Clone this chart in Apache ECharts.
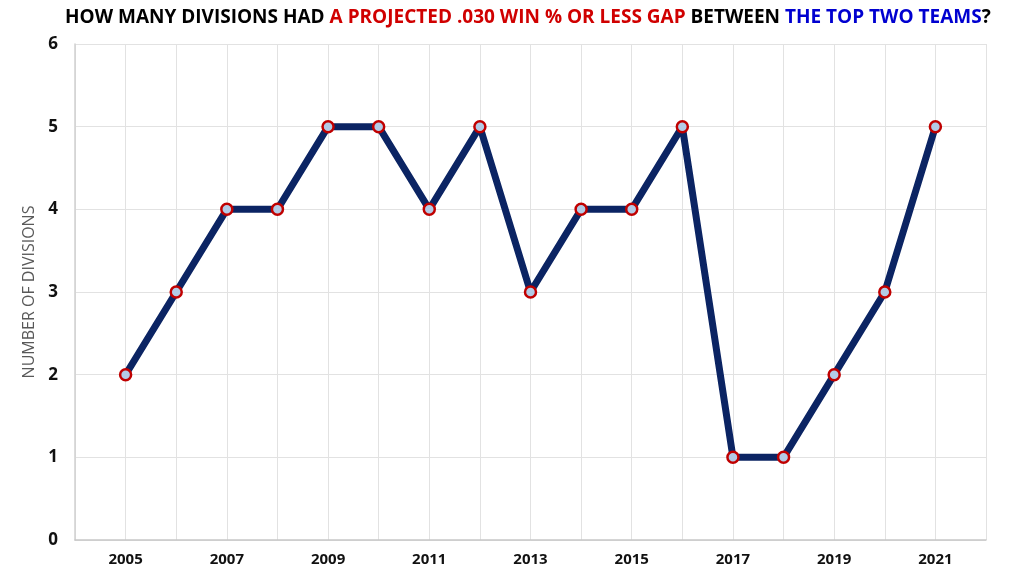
<!DOCTYPE html>
<html><head><meta charset="utf-8">
<script src="https://cdn.jsdelivr.net/npm/echarts@6/dist/echarts.min.js"></script>
<style>html,body{margin:0;padding:0;background:#fff}#c{width:1024px;height:576px}</style>
</head><body><div id="c"></div>
<script>
const years = [2005,2006,2007,2008,2009,2010,2011,2012,2013,2014,2015,2016,2017,2018,2019,2020,2021];
const divisions = [2,3,4,4,5,5,4,5,3,4,4,5,1,1,2,3,5];
const yTicks = [0,1,2,3,4,5,6];
const titleParts = ['HOW MANY DIVISIONS HAD ', 'A PROJECTED .030 WIN % OR LESS GAP', ' BETWEEN ', 'THE TOP TWO TEAMS', '?'];
const yName = 'NUMBER OF DIVISIONS';

const chart = echarts.init(document.getElementById('c'), null, {renderer:'canvas'});
const font = '"Open Sans", sans-serif';
const tfs = 19;
chart.setOption({
  animation:false,
  backgroundColor:'#fff',
  title:{
    left:60, top:3,
    text:'{k|'+titleParts[0]+'}{r|'+titleParts[1]+'}{k|'+titleParts[2]+'}{b|'+titleParts[3]+'}{k|'+titleParts[4]+'}',
    textStyle:{
      fontFamily:font, fontSize:tfs, fontWeight:'bold',
      rich:{
        k:{color:'#000', fontFamily:font, fontSize:tfs, fontWeight:'bold'},
        r:{color:'#d00000', fontFamily:font, fontSize:tfs, fontWeight:'bold'},
        b:{color:'#0000d0', fontFamily:font, fontSize:tfs, fontWeight:'bold'}
      }
    }
  },
  grid:{left:75, right:38, top:44, bottom:36, containLabel:false},
  xAxis:{
    type:'value', min:years[0]-1, max:years[years.length-1]+1, interval:1,
    axisLine:{show:true, onZero:false, lineStyle:{color:'#c8c8c8', width:1.5}},
    axisTick:{show:false},
    splitLine:{show:true, lineStyle:{color:'#e2e2e2', width:1}},
    axisLabel:{
      color:'#111', fontFamily:font, fontSize:15, fontWeight:'bold', margin:12,
      formatter:v => (v>=years[0] && v<=years[years.length-1] && (v-years[0])%2===0) ? String(v) : ''
    }
  },
  yAxis:{
    type:'value', min:yTicks[0], max:yTicks[yTicks.length-1], interval:1,
    name:yName, nameLocation:'middle', nameGap:36, nameRotate:90,
    nameTextStyle:{color:'#595959', fontFamily:font, fontSize:16},
    axisLine:{show:true, lineStyle:{color:'#d0d0d0', width:1.5}},
    axisTick:{show:false},
    splitLine:{show:true, lineStyle:{color:'#e2e2e2', width:1}},
    axisLabel:{color:'#111', fontFamily:font, fontSize:17, fontWeight:'bold', margin:17}
  },
  series:[{
    type:'line',
    data:years.map((y,i)=>[y, divisions[i]]),
    lineStyle:{color:'#0b2463', width:7},
    symbol:'circle', symbolSize:11,
    itemStyle:{color:'#b3cbe6', borderColor:'#c00000', borderWidth:2.5},
    z:3
  }]
});
</script></body></html>
